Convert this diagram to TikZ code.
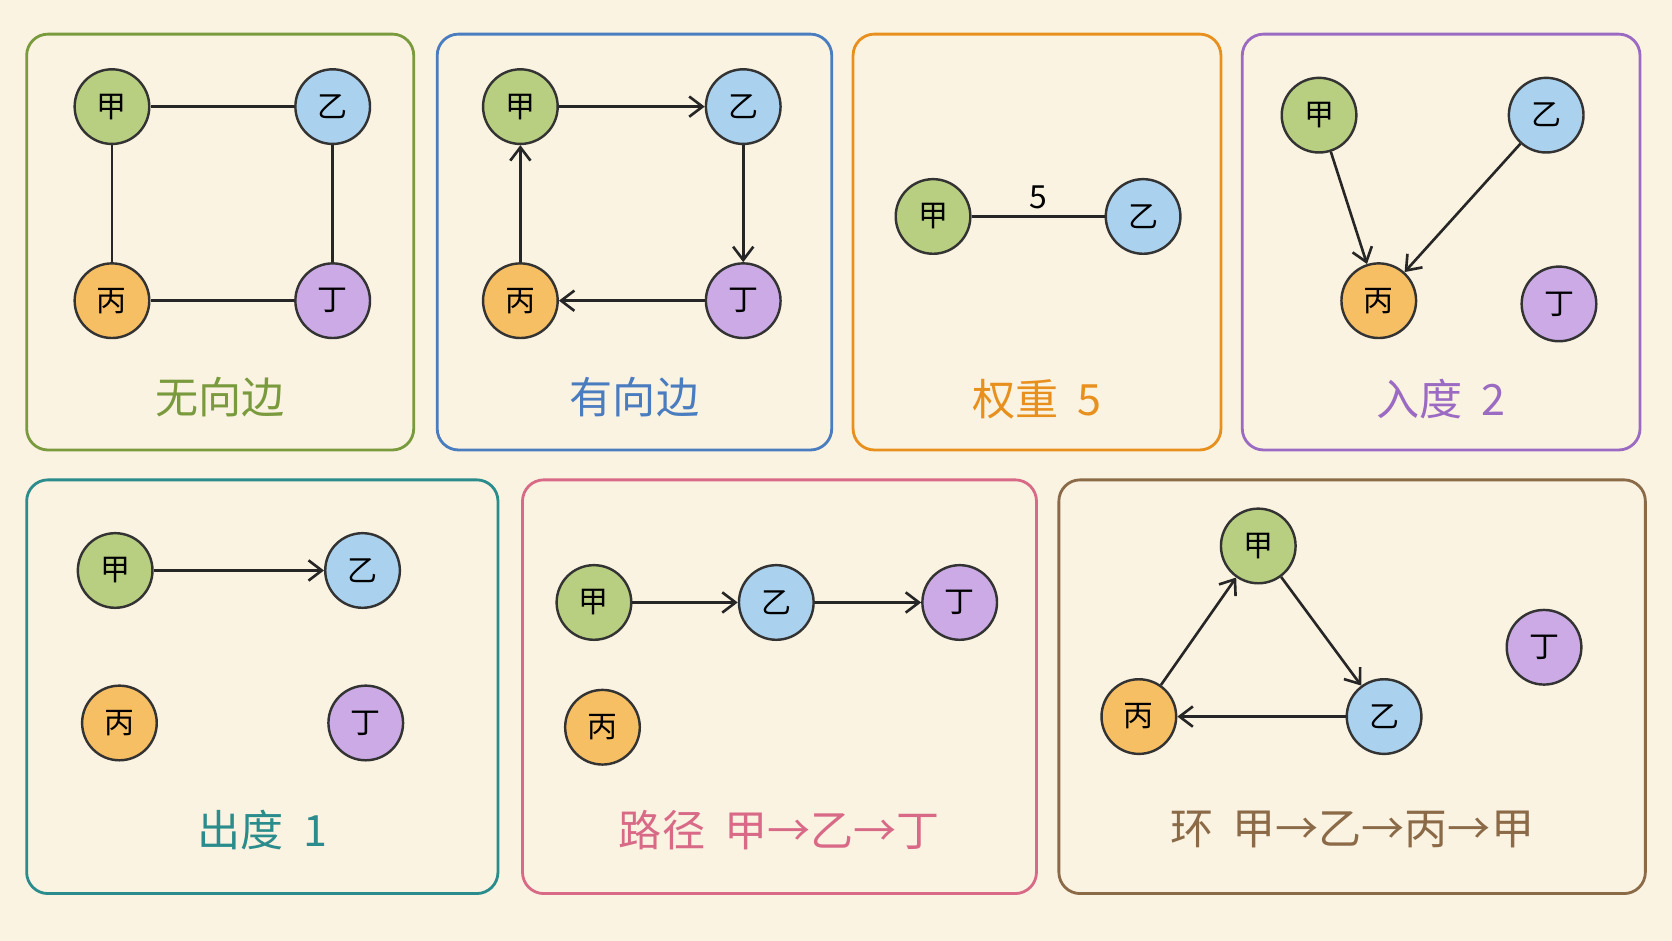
\documentclass[tikz,border=0pt]{standalone}
\usepackage{fontspec}
\setmainfont{Noto Sans CJK SC}
\usetikzlibrary{arrows.meta}
\definecolor{paper}{HTML}{FBF3E1}
\definecolor{cGreen}{HTML}{7A9A3E}
\definecolor{cBlue}{HTML}{4A7CC0}
\definecolor{cOrange}{HTML}{E8901E}
\definecolor{cPurple}{HTML}{9B6BC4}
\definecolor{cTeal}{HTML}{2A8C8C}
\definecolor{cPink}{HTML}{D86A88}
\definecolor{cBrown}{HTML}{8B6A48}
\definecolor{fJia}{HTML}{B8CE80}
\definecolor{fYi}{HTML}{AAD2EE}
\definecolor{fBing}{HTML}{F6BF64}
\definecolor{fDing}{HTML}{CBAAE6}
\newcommand{\panel}[7]{%
  \draw[panel, draw=#5] (#1,#2) rectangle (#3,#4);
  \node[title, text=#5] at ({(#1+#3)/2},{#4-#7}) {#6};}
\begin{document}
\begin{tikzpicture}[x=0.2mm, y=-0.2mm,
  panel/.style={line width=1.5pt, rounded corners=4mm},
  title/.style={font=\fontsize{23}{26}\selectfont},
  vtx/.style={circle, draw=black!80, line width=1.3pt, minimum size=14mm, inner sep=0pt, font=\fontsize{16}{18}\selectfont},
  jia/.style={vtx, fill=fJia}, yi/.style={vtx, fill=fYi},
  bing/.style={vtx, fill=fBing}, ding/.style={vtx, fill=fDing},
  edge/.style={line width=1.4pt, draw=black!85},
  arc/.style={edge, -{Straight Barb[length=2.5mm, width=3.8mm]}}]
  \fill[paper] (0,0) rectangle (1568,882);
  \useasboundingbox (0,0) rectangle (1568,882);
  % panels
  \panel{25}{32}{388}{422}{cGreen}{无向边}{50}
  \panel{410}{32}{780}{422}{cBlue}{有向边}{50}
  \panel{800}{32}{1145}{422}{cOrange}{权重\ \ 5}{48}
  \panel{1165}{32}{1538}{422}{cPurple}{入度\ \ 2}{48}
  \panel{25}{450}{467}{838}{cTeal}{出度\ \ 1}{60}
  \panel{490}{450}{972}{838}{cPink}{路径\ \ 甲→乙→丁}{60}
  \panel{993}{450}{1543}{838}{cBrown}{环\ \ 甲→乙→丙→甲}{60}
  % undirected
  \node[jia] (A1) at (105,100) {甲};
  \node[yi] (B1) at (312,100) {乙};
  \node[bing] (C1) at (105,282) {丙};
  \node[ding] (D1) at (312,282) {丁};
  \draw[edge] (A1) -- (B1);
  \draw[edge] (A1) -- (C1);
  \draw[edge] (B1) -- (D1);
  \draw[edge] (C1) -- (D1);
  % directed
  \node[jia] (A2) at (488,100) {甲};
  \node[yi] (B2) at (697,100) {乙};
  \node[bing] (C2) at (488,282) {丙};
  \node[ding] (D2) at (697,282) {丁};
  \draw[arc] (A2) -- (B2);
  \draw[arc] (B2) -- (D2);
  \draw[arc] (D2) -- (C2);
  \draw[arc] (C2) -- (A2);
  % weight
  \node[jia] (A3) at (875,203) {甲};
  \node[yi] (B3) at (1072,203) {乙};
  \draw[edge] (A3) -- node[above, font=\fontsize{17}{19}\selectfont] {5} (B3);
  % in-degree
  \node[jia] (A4) at (1237,108) {甲};
  \node[yi] (B4) at (1450,108) {乙};
  \node[bing] (C4) at (1293,282) {丙};
  \node[ding] (D4) at (1462,285) {丁};
  \draw[arc] (A4) -- (C4);
  \draw[arc] (B4) -- (C4);
  % out-degree
  \node[jia] (A5) at (108,535) {甲};
  \node[yi] (B5) at (340,535) {乙};
  \node[bing] (C5) at (112,678) {丙};
  \node[ding] (D5) at (343,678) {丁};
  \draw[arc] (A5) -- (B5);
  % path
  \node[jia] (A6) at (557,565) {甲};
  \node[yi] (B6) at (728,565) {乙};
  \node[ding] (D6) at (900,565) {丁};
  \node[bing] (C6) at (565,682) {丙};
  \draw[arc] (A6) -- (B6);
  \draw[arc] (B6) -- (D6);
  % cycle
  \node[jia] (A7) at (1180,512) {甲};
  \node[yi] (B7) at (1298,672) {乙};
  \node[bing] (C7) at (1068,672) {丙};
  \node[ding] (D7) at (1448,607) {丁};
  \draw[arc] (A7) -- (B7);
  \draw[arc] (B7) -- (C7);
  \draw[arc] (C7) -- (A7);
\end{tikzpicture}
\end{document}
